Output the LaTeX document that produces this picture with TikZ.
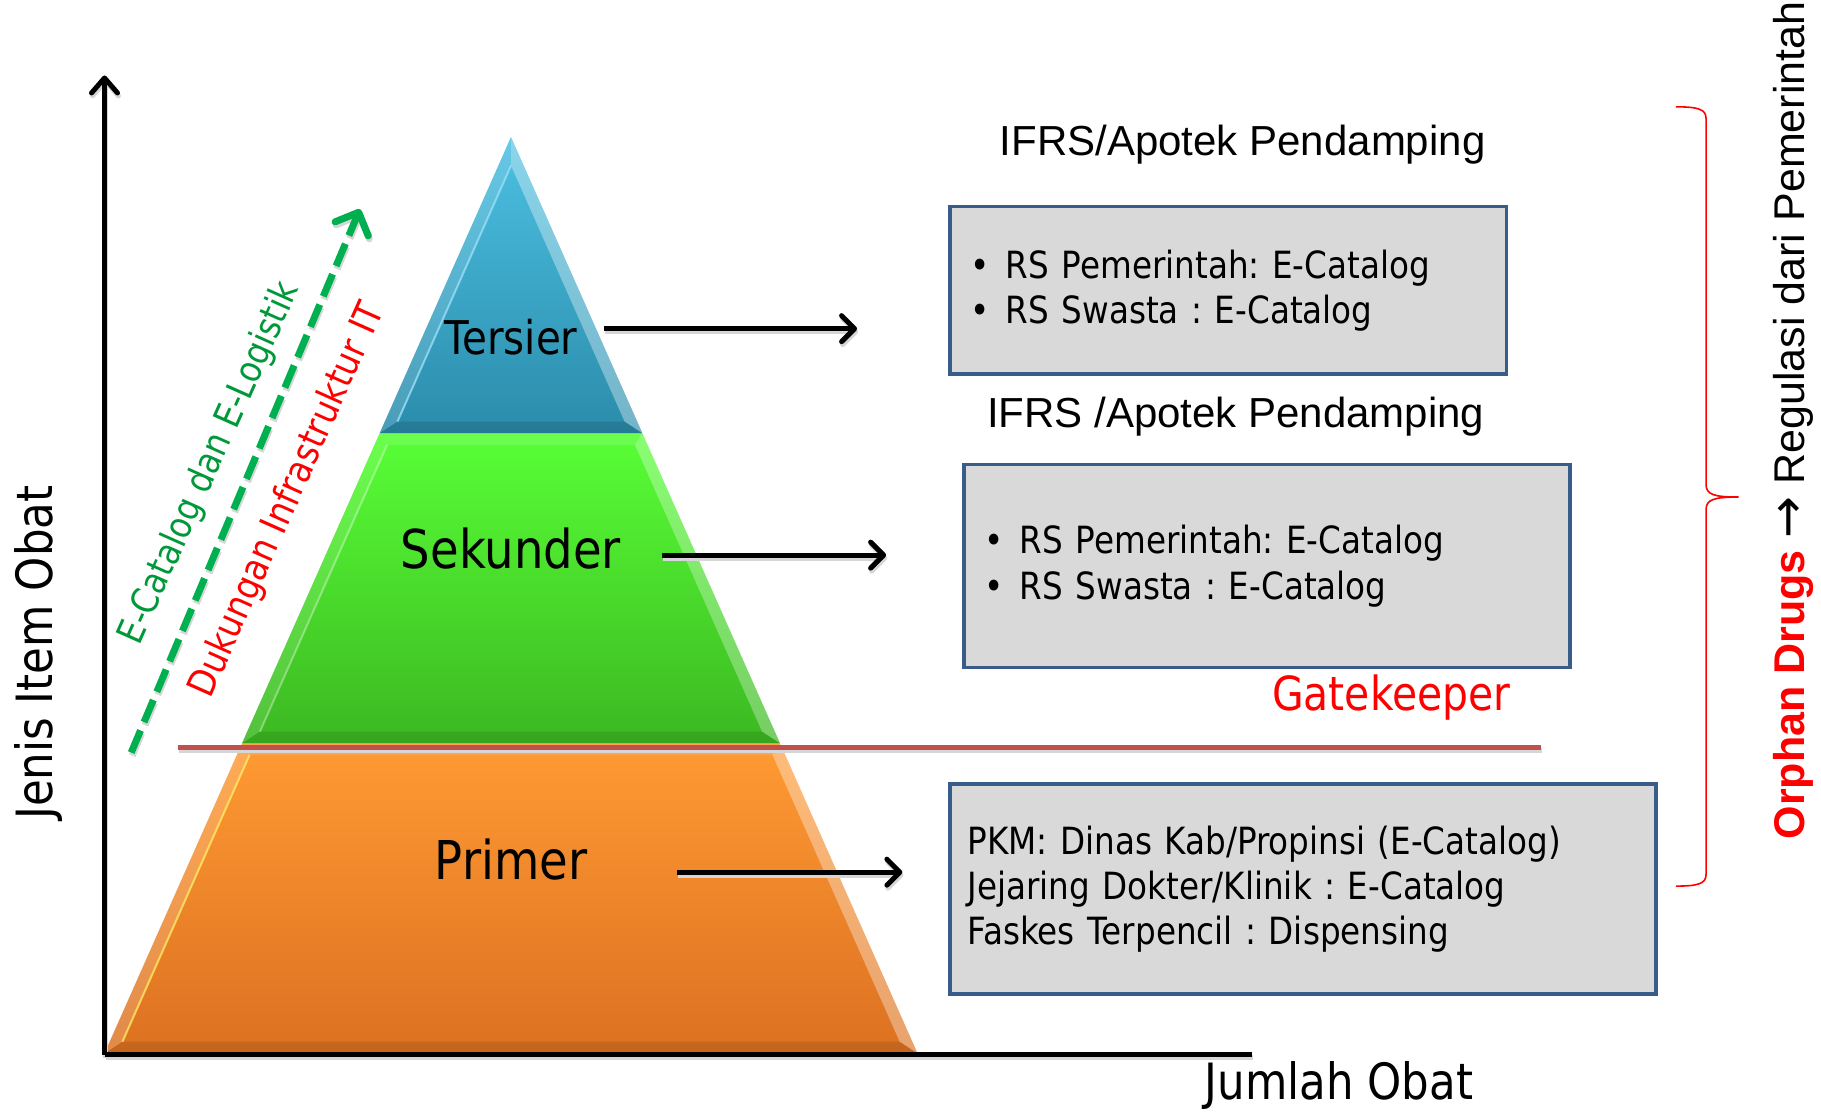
\documentclass[tikz,border=0pt]{standalone}
\usepackage{fontspec}
\usetikzlibrary{arrows.meta}
\newfontfamily\tah[FakeStretch=0.87]{DejaVu Sans}
\newfontfamily\ari{Liberation Sans}
\newfontfamily\dvs{DejaVu Sans}
\frenchspacing
\definecolor{boxblue}{HTML}{385D8A}
\definecolor{boxgray}{HTML}{D9D9D9}
\definecolor{gatered}{HTML}{C0504D}
\definecolor{arrowgreen}{HTML}{00B050}
\definecolor{textgreen}{HTML}{00993A}
\definecolor{tertop}{HTML}{4CC0E2}
\definecolor{terbot}{HTML}{2B8CAB}
\definecolor{sektop}{HTML}{58FF36}
\definecolor{sekbot}{HTML}{3CB822}
\definecolor{primtop}{HTML}{FF9A33}
\definecolor{primbot}{HTML}{DC7121}
\begin{document}
\begin{tikzpicture}[x=1.1614pt,y=1.1614pt,
  axis/.style={line width=5pt},
  axistip/.style={-{Straight Barb[length=15pt,width=26pt,round]}},
  tiptier/.style={-{Straight Barb[length=13pt,width=26pt,round]}},
  tierarrow/.style={line width=5pt,tiptier},
  growtharrow/.style={line width=7pt,dash pattern=on 24pt off 9pt,-{Straight Barb[length=18pt,width=36pt,round]}},
  infobox/.style={draw=boxblue,fill=boxgray,line width=3.5pt,align=left,
    font=\tah\fontsize{37.5pt}{45.3pt}\selectfont,inner ysep=0pt},
  tierlabel/.style={font=\tah\fontsize{53.5pt}{60pt}\selectfont},
  heading/.style={font=\ari\fontsize{42pt}{48pt}\selectfont,anchor=base},
  bevellight/.style={fill=white,fill opacity=#1},
  beveldark/.style={fill=black,fill opacity=#1}]
\useasboundingbox (0,0) rectangle (1568,957);

% ---- pyramid: primer tier
\shade[top color=primtop,bottom color=primbot] (90,50) -- (790,50) -- (671.6,317) -- (208.4,317) -- cycle;
\fill[bevellight=.18] (90,50) -- (208.4,317) -- (214.9,307) -- (105.4,60) -- cycle;
\fill[bevellight=.35] (790,50) -- (671.6,317) -- (665.1,307) -- (774.7,60) -- cycle;
\fill[beveldark=.10] (90,50) -- (790,50) -- (774.7,60) -- (105.4,60) -- cycle;
\fill[bevellight=.12] (208.4,317) -- (671.6,317) -- (665.1,307) -- (214.9,307) -- cycle;
\draw[yellow!60!white,opacity=.7,line width=2pt] (105.4,60) -- (214.9,307);

% ---- pyramid: sekunder tier
\shade[top color=sektop,bottom color=sekbot] (208.4,317) -- (671.6,317) -- (553.1,584) -- (326.9,584) -- cycle;
\fill[bevellight=.12] (208.4,317) -- (326.9,584) -- (333.3,574) -- (223.8,327) -- cycle;
\fill[bevellight=.30] (671.6,317) -- (553.1,584) -- (546.7,574) -- (656.2,327) -- cycle;
\fill[beveldark=.10] (208.4,317) -- (671.6,317) -- (656.2,327) -- (223.8,327) -- cycle;
\fill[bevellight=.12] (326.9,584) -- (553.1,584) -- (546.7,574) -- (333.3,574) -- cycle;
\draw[white,opacity=.35,line width=2pt] (223.8,327) -- (333.3,574);

% ---- pyramid: tersier tier
\shade[top color=tertop,bottom color=terbot] (326.9,584) -- (553.1,584) -- (440,839) -- cycle;
\fill[bevellight=.15] (326.9,584) -- (440,839) -- (440,814.4) -- (342.2,594) -- cycle;
\fill[bevellight=.35] (553.1,584) -- (440,839) -- (440,814.4) -- (537.8,594) -- cycle;
\fill[beveldark=.12] (326.9,584) -- (553.1,584) -- (537.8,594) -- (342.2,594) -- cycle;
\draw[cyan!40!white,opacity=.8,line width=2pt] (342.2,594) -- (440,814.4);

% ---- anchor points of the lines
\coordinate (origin) at (90,49);
\coordinate (ytop) at (90,892);
\coordinate (xend) at (1078,49);
\coordinate (gl) at (153,313); \coordinate (gr) at (1327,313);
\coordinate (t1s) at (520,674); \coordinate (t1e) at (738,674);
\coordinate (t2s) at (570,479); \coordinate (t2e) at (763,479);
\coordinate (t3s) at (583,206); \coordinate (t3e) at (777,206);
\coordinate (gs) at (113,309);
\coordinate (ge) at (310,777);

% ---- soft drop shadows under the lines
\begin{scope}[transform canvas={shift={(1pt,-3pt)}},draw=black!16]
  \draw[axis,axistip] (origin) -- (ytop);
  \draw[axis] (origin) -- (xend);
  \draw[line width=5pt] (gl) -- (gr);
  \draw[tierarrow] (t1s) -- (t1e);
  \draw[tierarrow] (t2s) -- (t2e);
  \draw[tierarrow] (t3s) -- (t3e);
  \draw[growtharrow] (gs) -- (ge);
\end{scope}

% ---- axes
\draw[axis,axistip] (origin) -- (ytop);
\draw[axis] (origin) -- (xend);
\node[font=\tah\fontsize{50pt}{56pt}\selectfont,rotate=90,anchor=base] (yaxislabel) at (45,395) {Jenis Item Obat};
\node[font=\tah\fontsize{50pt}{56pt}\selectfont,anchor=base] (xaxislabel) at (1153,10) {Jumlah Obat};

% ---- gatekeeper line
\draw[gatered,line width=5pt] (gl) -- (gr);
\node[font=\tah\fontsize{47pt}{52pt}\selectfont,text=red,anchor=base] (gate) at (1198,345) {Gatekeeper};

% ---- tier labels
\node[tierlabel,font=\tah\fontsize{46.5pt}{52pt}\selectfont] (tersier) at (440,667) {Tersier};
\node[tierlabel] (sekunder) at (440,485) {Sekunder};
\node[tierlabel] (primer) at (440,217) {Primer};

% ---- info boxes
\node[infobox,minimum width=556.3pt,minimum height=167.2pt,text width=514.5pt,inner xsep=20.9pt] (box1) at (1057.5,707)
  {\makebox[35pt][l]{•}RS Pemerintah: E-Catalog\\\makebox[35pt][l]{•}RS Swasta : E-Catalog};
\node[infobox,minimum width=606.3pt,minimum height=203.2pt,text width=564.5pt,inner xsep=20.9pt] (box2) at (1091,469.5)
  {\makebox[35pt][l]{•}RS Pemerintah: E-Catalog\\\makebox[35pt][l]{•}RS Swasta : E-Catalog};
\node[infobox,minimum width=706.1pt,minimum height=210.2pt,text width=671.3pt,inner xsep=17.4pt] (box3) at (1122,191.5)
  {PKM: Dinas Kab/Propinsi (E-Catalog)\\Jejaring Dokter/Klinik : E-Catalog\\Faskes Terpencil : Dispensing};

\node[heading] (ifrs1) at (1070,823) {IFRS/Apotek Pendamping};
\node[heading] (ifrs2) at (1064,589) {IFRS /Apotek Pendamping};

% ---- tier arrows
\draw[tierarrow] (t1s) -- (t1e);
\draw[tierarrow] (t2s) -- (t2e);
\draw[tierarrow] (t3s) -- (t3e);

% ---- growth arrow with its two labels
\draw[arrowgreen,growtharrow] (gs) -- (ge);
\node[font=\tah\fontsize{37pt}{42pt}\selectfont,text=textgreen,rotate=66] (ecat) at (181,558) {E-Catalog dan E-Logistik};
\node[font=\tah\fontsize{38pt}{42pt}\selectfont,text=red,rotate=66] (infra) at (248,526) {Dukungan Infrastruktur IT};

% ---- brace and regulation note
\draw[red,line width=1.6pt] (1443,865) .. controls (1462,865) and (1469,863) .. (1469,855) -- (1469,540)
  .. controls (1469,531) and (1476,529) .. (1497,529) .. controls (1476,529) and (1469,527) .. (1469,518)
  -- (1469,204) .. controls (1469,196) and (1462,194) .. (1443,194);
\node[font=\ari\fontsize{43pt}{48pt}\selectfont,rotate=90,anchor=base] (regul) at (1554,595)
  {\textcolor{red}{\bfseries Orphan Drugs} {\dvs\fontsize{50pt}{50pt}\selectfont →} Regulasi dari Pemerintah};
\end{tikzpicture}
\end{document}
